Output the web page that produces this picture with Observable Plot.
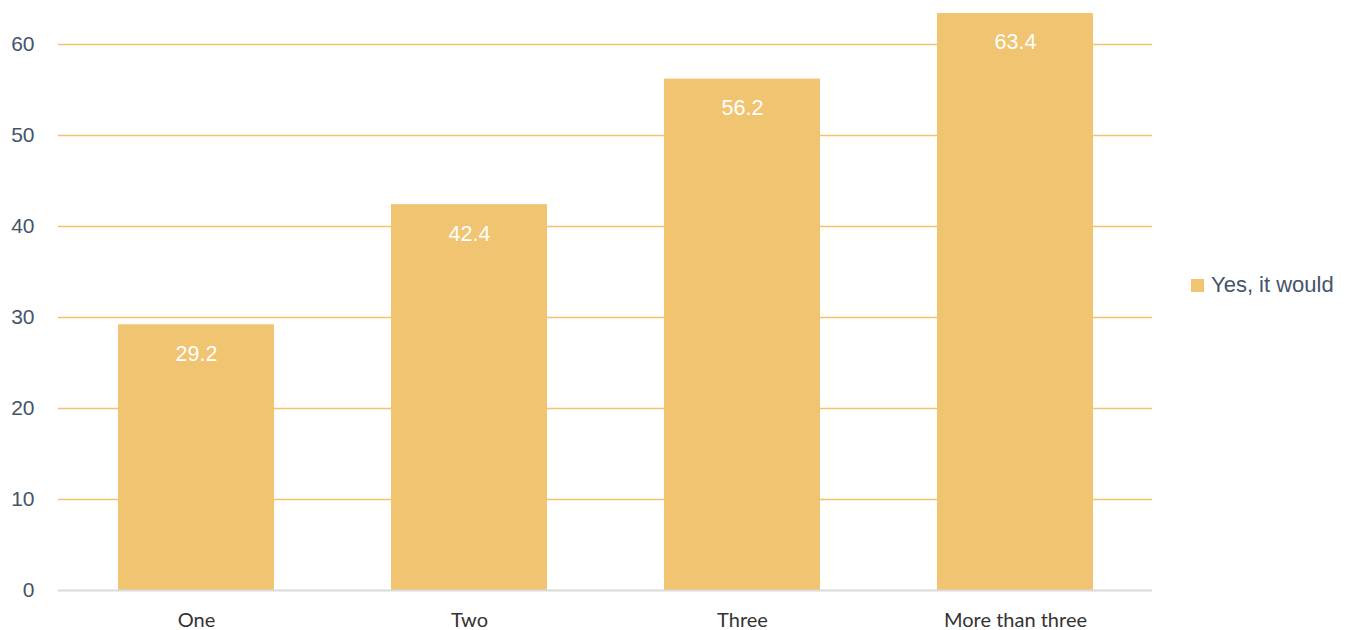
<!DOCTYPE html>
<html>
<head>
<meta charset="utf-8">
<script src="https://cdn.jsdelivr.net/npm/d3@7"></script>
<script src="https://cdn.jsdelivr.net/npm/@observablehq/plot@0.6"></script>
<style>
  html, body { margin: 0; padding: 0; background: #fff; }
  #wrap { position: relative; width: 1349px; height: 630px; }
  #legend { position: absolute; left: 1191px; top: 272px; display: flex; align-items: center;
    font-family: "Liberation Sans", Arial, sans-serif; font-size: 22px; color: #44546a; }
  #legend .sw { width: 13px; height: 13px; background: #f0c470; margin-right: 7px; }
</style>
</head>
<body>
<div id="wrap"><div id="legend"><span class="sw"></span><span>Yes, it would</span></div></div>
<script>
const categories = ["One", "Two", "Three", "More than three"];
const values = [29.2, 42.4, 56.2, 63.4];
const seriesName = "Yes, it would";
const yTicks = [0, 10, 20, 30, 40, 50, 60];

const data = categories.map((c, i) => ({category: c, value: values[i]}));
const barColor = "#f0c470";

const chart = Plot.plot({
  width: 1349,
  height: 630,
  marginLeft: 58,
  marginRight: 197,
  marginTop: 44,
  marginBottom: 40,
  style: {background: "#fff", overflow: "visible"},
  x: {domain: categories, paddingInner: 0.43, paddingOuter: 0.215, label: null},
  y: {domain: [0, 60], label: null},
  marks: [
    Plot.gridY(yTicks.filter(d => d > 0), {stroke: "#f2c26c", strokeOpacity: 1, strokeWidth: 1.5}),
    Plot.barY(data, {x: "category", y: "value", fill: barColor}),
    Plot.ruleY([0], {stroke: "#d9d9d9", strokeWidth: 2}),
    Plot.text(data, {x: "category", y: "value", text: d => d.value.toFixed(1), dy: 29,
      fill: "white", fontSize: 21.5, fontFamily: "Liberation Sans, Arial, sans-serif"}),
    Plot.axisY(yTicks, {tickSize: 0, tickPadding: 24, fontSize: 21, fill: "#44546a",
      fontFamily: "Liberation Sans, Arial, sans-serif", label: null}),
    Plot.axisX({tickSize: 0, tickPadding: 22, fontSize: 20, fill: "#333",
      fontFamily: "Lato, Open Sans, sans-serif", label: null})
  ]
});
document.getElementById("wrap").prepend(chart);
</script>
</body>
</html>
